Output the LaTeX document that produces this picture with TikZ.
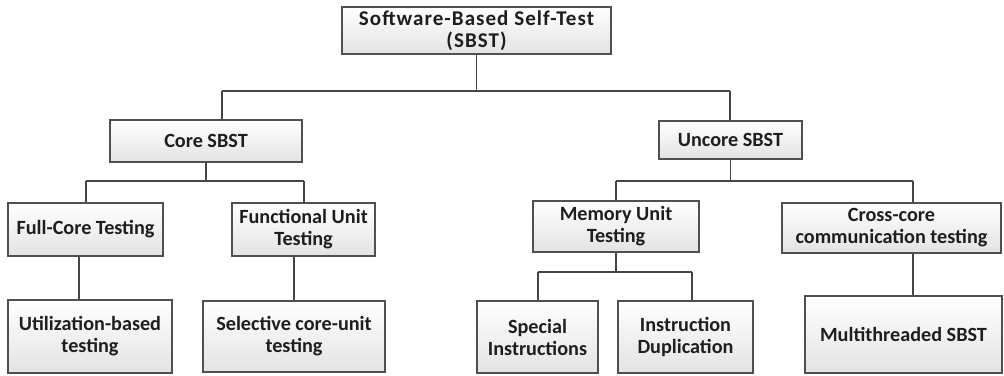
\documentclass[tikz,border=0pt]{standalone}
\usepackage{fontspec}
\setmainfont{Carlito}
\usetikzlibrary{shadows}
\definecolor{boxline}{HTML}{505050}
\definecolor{wire}{HTML}{454545}
\definecolor{ink}{HTML}{1E1E1E}
\tikzset{
  box/.style={draw=boxline, line width=1.6pt, top color=white, bottom color=black!11,
    inner sep=0pt, align=center, text=ink,
    font=\fontsize{20.2}{22}\selectfont\bfseries,
    drop shadow={shadow xshift=0.8pt, shadow yshift=-0.8pt, opacity=0.35, fill=black!60}},
  rootbox/.style={box, font=\fontsize{21}{21.5}\selectfont\bfseries\addfontfeature{LetterSpace=5}},
  wireline/.style={draw=wire, line width=1.9pt}
}
\newcommand{\boxat}[6][]{% style, name, x, y, width, height; the node text follows
  \node[box, #1, minimum width=#5pt, minimum height=#6pt] (#2) at (#3,#4)}
\begin{document}
\begin{tikzpicture}[x=1pt,y=-1pt]
\useasboundingbox (0,0) rectangle (1004,375);

% level 0
\boxat[rootbox]{root}{476.5}{30.5}{269}{47} {Software-Based Self-Test\\(SBST)};
% level 1
\boxat{core}{206}{141}{192}{42} {Core SBST};
\boxat{uncore}{730.5}{140}{143}{38} {Uncore SBST};
% level 2
\boxat{full}{85.5}{229.5}{155}{53} {Full-Core Testing};
\boxat{func}{303.5}{229.5}{143}{53} {Functional Unit\\Testing};
\boxat{mem}{616}{226.5}{166}{51} {Memory Unit\\Testing};
\boxat{cross}{891.5}{228}{219}{50} {Cross-core\\communication testing};
% level 3
\boxat{util}{90}{336.5}{164}{73} {Utilization-based\\testing};
\boxat{sel}{294}{336.5}{182}{71} {Selective core-unit\\testing};
\boxat{spec}{537.5}{337}{121}{72} {Special\\Instructions};
\boxat{dup}{685.5}{337}{135}{72} {Instruction\\Duplication};
\boxat{multi}{903.5}{334.5}{197}{77} {Multithreaded SBST};

% junction points of the tree wiring
\coordinate (b0l) at (222,91);
\coordinate (b0r) at (730,91);
\coordinate (b1l) at (86,181);
\coordinate (b1r) at (304,181);
\coordinate (b2l) at (616,181);
\coordinate (b2r) at (913,181);
\coordinate (b3l) at (538,272);
\coordinate (b3r) at (692,272);
\coordinate (t1) at (79,0);
\coordinate (t2) at (294,0);
\coordinate (t3) at (913,0);

% root to level 1
\draw[wireline] (root.south) -- (root.south |- b0l);
\draw[wireline] (b0l) -- (b0r);
\draw[wireline] (b0l) -- (b0l |- core.north);
\draw[wireline] (b0r) -- (b0r |- uncore.north);
% core branch
\draw[wireline] (core.south) -- (core.south |- b1l);
\draw[wireline] (b1l) -- (b1r);
\draw[wireline] (b1l) -- (b1l |- full.north);
\draw[wireline] (b1r) -- (b1r |- func.north);
\draw[wireline] (t1 |- full.south) -- (t1 |- util.north);
\draw[wireline] (t2 |- func.south) -- (t2 |- sel.north);
% uncore branch
\draw[wireline] (uncore.south) -- (uncore.south |- b2l);
\draw[wireline] (b2l) -- (b2r);
\draw[wireline] (b2l) -- (b2l |- mem.north);
\draw[wireline] (b2r) -- (b2r |- cross.north);
\draw[wireline] (mem.south) -- (mem.south |- b3l);
\draw[wireline] (b3l) -- (b3r);
\draw[wireline] (b3l) -- (b3l |- spec.north);
\draw[wireline] (b3r) -- (b3r |- dup.north);
\draw[wireline] (t3 |- cross.south) -- (t3 |- multi.north);
\end{tikzpicture}
\end{document}
